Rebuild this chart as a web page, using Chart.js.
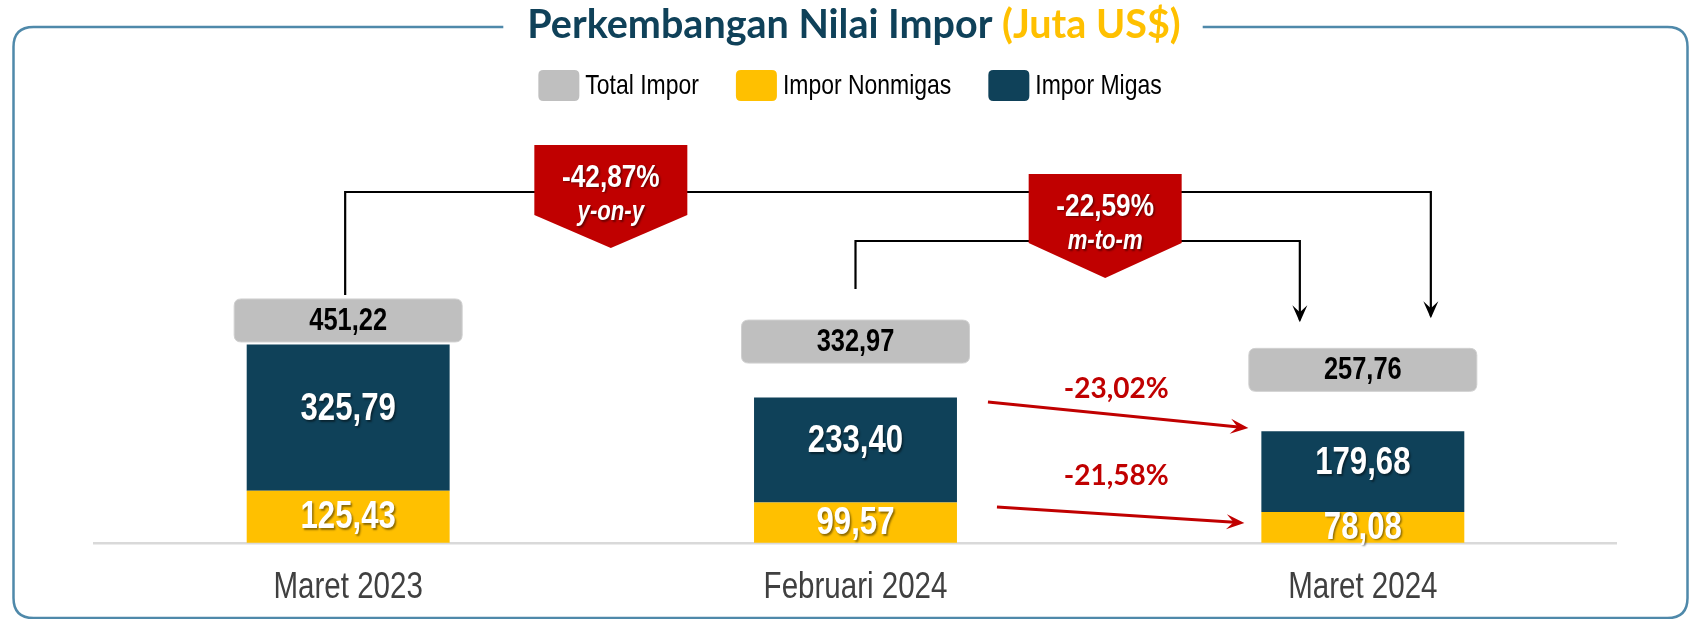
<!DOCTYPE html>
<html><head><meta charset="utf-8">
<script src="https://cdn.jsdelivr.net/npm/chart.js@4.4.0/dist/chart.umd.min.js"></script>
<style>
html,body{margin:0;padding:0;overflow:hidden;background:#fff;width:1693px;height:619px}
#wrap{position:relative;width:1693px;height:634px}
</style></head>
<body><div id="wrap"><canvas id="c" width="1693" height="634"></canvas></div>
<script>
// ---- data ----
const categories = ['Maret 2023', 'Februari 2024', 'Maret 2024'];
const imporNonmigas = [125.43, 99.57, 78.08];
const imporMigas = [325.79, 233.40, 179.68];
const totalImpor = [451.22, 332.97, 257.76];
const seriesNames = ['Total Impor', 'Impor Nonmigas', 'Impor Migas'];
const changeYoY = -42.87;     // Maret 2023 -> Maret 2024 (total)
const changeMtM = -22.59;     // Februari 2024 -> Maret 2024 (total)
const changeMigasMtM = -23.02;
const changeNonmigasMtM = -21.58;
const titleMain = 'Perkembangan Nilai Impor ';
const titleUnit = '(Juta US$)';

// ---- styles ----
const COL = {dark:'#0f4159', yellow:'#ffc000', gray:'#bfbfbf', red:'#c00000',
  border:'#4f89aa', axis:'#d9d9d9', tick:'#404040', titleDark:'#0f4159'};
const fmt = v => v.toFixed(2).replace('.', ',');
const pct = v => fmt(v) + '%';

function hasFont(name){
  const c = document.createElement('canvas').getContext('2d');
  const s = 'Impor Migas 123,45 Maret';
  c.font = '40px monospace'; const a = c.measureText(s).width;
  c.font = '40px "' + name + '", monospace'; const b = c.measureText(s).width;
  return a !== b;
}
const NARROW = hasFont('Liberation Sans Narrow');
const FAM = NARROW ? '"Liberation Sans Narrow"' : '"Liberation Sans", Arial, sans-serif';
const SX = NARROW ? 1 : 0.82;
const HUM = 'Lato, "Open Sans", sans-serif';

function txt(ctx, s, x, y, size, o = {}){
  ctx.save();
  const fam = o.family || FAM, sx = o.family ? 1 : SX;
  ctx.font = (o.italic ? 'italic ' : '') + (o.bold ? 'bold ' : '') + size + 'px ' + fam;
  ctx.fillStyle = o.color || '#000';
  ctx.textAlign = o.align || 'center';
  ctx.textBaseline = 'middle';
  if (o.shadow){ ctx.shadowColor = 'rgba(0,0,0,0.45)'; ctx.shadowOffsetX = 1.5; ctx.shadowOffsetY = 1.5; ctx.shadowBlur = 2; }
  ctx.translate(x, y); ctx.scale(sx, 1); ctx.fillText(s, 0, 0);
  ctx.restore();
}
function measure(ctx, s, size, o = {}){
  ctx.save();
  ctx.font = (o.italic ? 'italic ' : '') + (o.bold ? 'bold ' : '') + size + 'px ' + FAM;
  const w = ctx.measureText(s).width * SX; ctx.restore(); return w;
}
function rrect(ctx, x, y, w, h, r){
  ctx.beginPath();
  ctx.moveTo(x + r, y); ctx.lineTo(x + w - r, y); ctx.quadraticCurveTo(x + w, y, x + w, y + r);
  ctx.lineTo(x + w, y + h - r); ctx.quadraticCurveTo(x + w, y + h, x + w - r, y + h);
  ctx.lineTo(x + r, y + h); ctx.quadraticCurveTo(x, y + h, x, y + h - r);
  ctx.lineTo(x, y + r); ctx.quadraticCurveTo(x, y, x + r, y); ctx.closePath();
}
function arrowHead(ctx, x1, y1, x2, y2, len, half, color){
  const a = Math.atan2(y2 - y1, x2 - x1);
  ctx.save(); ctx.translate(x2, y2); ctx.rotate(a);
  ctx.beginPath(); ctx.moveTo(0, 0); ctx.lineTo(-len, -half); ctx.lineTo(-len * 0.6, 0); ctx.lineTo(-len, half); ctx.closePath();
  ctx.fillStyle = color; ctx.fill(); ctx.restore();
}
function badge(ctx, cx, top, w, h, tip, l1, l2){
  ctx.save();
  ctx.beginPath();
  ctx.moveTo(cx - w / 2, top); ctx.lineTo(cx + w / 2, top); ctx.lineTo(cx + w / 2, top + h);
  ctx.lineTo(cx, top + h + tip); ctx.lineTo(cx - w / 2, top + h); ctx.closePath();
  ctx.fillStyle = COL.red; ctx.fill(); ctx.restore();
  txt(ctx, l1, cx, top + 33, 32, {bold:true, color:'#fff', shadow:true});
  txt(ctx, l2, cx, top + 68, 27, {bold:true, italic:true, color:'#fff', shadow:true});
}

const frame = {
  id:'frame',
  beforeDraw(chart){
    const ctx = chart.ctx;
    ctx.save();
    ctx.fillStyle = '#fff'; ctx.fillRect(0, 0, chart.width, chart.height);
    // rounded border
    ctx.strokeStyle = COL.border; ctx.lineWidth = 2.5;
    rrect(ctx, 13.5, 27, 1674, 591, 20); ctx.stroke();
    // title
    ctx.font = 'bold 39.5px ' + HUM;
    const w1 = ctx.measureText(titleMain).width, w2 = ctx.measureText(titleUnit).width;
    const cx = 854, left = cx - (w1 + w2) / 2;
    ctx.fillStyle = '#fff'; ctx.fillRect(left - 24, 10, w1 + w2 + 46, 30);
    ctx.textBaseline = 'alphabetic'; ctx.textAlign = 'left';
    ctx.fillStyle = COL.titleDark; ctx.fillText(titleMain, left, 38);
    ctx.fillStyle = COL.yellow; ctx.fillText(titleUnit, left + w1, 38);
    ctx.restore();
    // legend
    const cols = [COL.gray, COL.yellow, COL.dark];
    const bw = 41, bh = 31, gap = 6, itemGap = 37, fs = 28;
    const widths = seriesNames.map(s => bw + gap + measure(ctx, s, fs));
    const total = widths.reduce((a, b) => a + b, 0) + itemGap * (widths.length - 1);
    let x = 850 - total / 2;
    seriesNames.forEach((s, i) => {
      ctx.save(); rrect(ctx, x, 70, bw, bh, 5); ctx.fillStyle = cols[i]; ctx.fill(); ctx.restore();
      txt(ctx, s, x + bw + gap, 86, fs, {align:'left', color:'#000'});
      x += widths[i] + itemGap;
    });
  },
  afterDatasetsDraw(chart){
    const ctx = chart.ctx;
    const ys = chart.scales.y;
    const bot = chart.chartArea.bottom;
    const mN = chart.getDatasetMeta(0).data, mM = chart.getDatasetMeta(1).data;
    // segment labels
    mM.forEach((b, i) => {
      txt(ctx, fmt(imporMigas[i]), b.x, (b.y + b.base) / 2 - 8, 38, {bold:true, color:'#fff', shadow:true});
    });
    mN.forEach((b, i) => {
      txt(ctx, fmt(imporNonmigas[i]), b.x, (b.y + bot) / 2 + 1, 38, {bold:true, color:'#fff', shadow:true});
    });
    // total boxes
    const gaps = [2.5, 34.5, 40];
    const boxTops = [];
    mM.forEach((b, i) => {
      const bottom = ys.getPixelForValue(totalImpor[i]) - gaps[i];
      const top = bottom - 43; boxTops.push(top);
      ctx.save(); rrect(ctx, b.x - 114, top, 228, 43, 7);
      ctx.fillStyle = COL.gray; ctx.fill(); ctx.strokeStyle = '#d0d0d0'; ctx.lineWidth = 1; ctx.stroke(); ctx.restore();
      txt(ctx, fmt(totalImpor[i]), b.x, top + 22, 31, {bold:true, color:'#000'});
    });
    // black brackets
    const x0 = mM[0].x - 3, x1 = mM[1].x, xa = mM[2].x - 63, xb = mM[2].x + 68;
    const yoyY = 192, mtmY = 241;
    ctx.save(); ctx.strokeStyle = '#000'; ctx.lineWidth = 2.2; ctx.lineJoin = 'miter';
    ctx.beginPath(); ctx.moveTo(x0, boxTops[0] - 4); ctx.lineTo(x0, yoyY); ctx.lineTo(xb, yoyY); ctx.lineTo(xb, boxTops[2] - 32); ctx.stroke();
    ctx.beginPath(); ctx.moveTo(x1, 289); ctx.lineTo(x1, mtmY); ctx.lineTo(xa, mtmY); ctx.lineTo(xa, boxTops[2] - 28); ctx.stroke();
    ctx.restore();
    arrowHead(ctx, xb, yoyY, xb, boxTops[2] - 30, 17, 7.5, '#000');
    arrowHead(ctx, xa, mtmY, xa, boxTops[2] - 26, 17, 7.5, '#000');
    // badges
    badge(ctx, (mM[0].x + mM[1].x) / 2 + 9, 145, 153, 70, 33, pct(changeYoY), 'y-on-y');
    badge(ctx, (mM[1].x + mM[2].x) / 2 - 4, 174, 153, 69, 35, pct(changeMtM), 'm-to-m');
    // red arrows
    const fr = mM[1].x + mM[1].width / 2, tl = mM[2].x - mM[2].width / 2;
    const arrows = [[fr + 31, 402, tl - 13, 428], [fr + 40, 507, tl - 17, 523]];
    arrows.forEach(a => {
      ctx.save(); ctx.strokeStyle = COL.red; ctx.lineWidth = 3;
      ctx.beginPath(); ctx.moveTo(a[0], a[1]);
      const ang = Math.atan2(a[3] - a[1], a[2] - a[0]);
      ctx.lineTo(a[2] - 10 * Math.cos(ang), a[3] - 10 * Math.sin(ang)); ctx.stroke(); ctx.restore();
      arrowHead(ctx, a[0], a[1], a[2], a[3], 18, 7.5, COL.red);
    });
    const mid = (fr + tl) / 2 + 7;
    txt(ctx, pct(changeMigasMtM), mid, 389, 28, {bold:true, color:COL.red, family:HUM});
    txt(ctx, pct(changeNonmigasMtM), mid, 476, 28, {bold:true, color:COL.red, family:HUM});
  },
  afterDraw(chart){
    // category labels at the library's tick positions, drawn with narrow-width text
    const ctx = chart.ctx, xs = chart.scales.x;
    xs.ticks.forEach((t, i) => {
      txt(ctx, categories[i], xs.getPixelForTick(i), 588, 36, {color:COL.tick});
    });
  }
};

new Chart(document.getElementById('c'), {
  type:'bar',
  data:{
    labels:categories,
    datasets:[
      {label:seriesNames[1], data:imporNonmigas, backgroundColor:COL.yellow, barPercentage:0.4, categoryPercentage:1},
      {label:seriesNames[2], data:imporMigas, backgroundColor:COL.dark, barPercentage:0.4, categoryPercentage:1}
    ]
  },
  options:{
    responsive:false, devicePixelRatio:1, animation:false,
    layout:{padding:{left:94.5, right:76.5, top:110, bottom:0}},
    plugins:{legend:{display:false}, tooltip:{enabled:false}, title:{display:false}},
    scales:{
      x:{stacked:true, grid:{display:false, drawTicks:false},
         border:{display:true, color:COL.axis, width:2.5},
         ticks:{padding:24, color:'rgba(0,0,0,0)', font:{size:36, family:FAM, lineHeight:1.2}}},
      y:{stacked:true, display:false, min:9.6, max:973.3}
    }
  },
  plugins:[frame]
});
</script>
</body></html>
